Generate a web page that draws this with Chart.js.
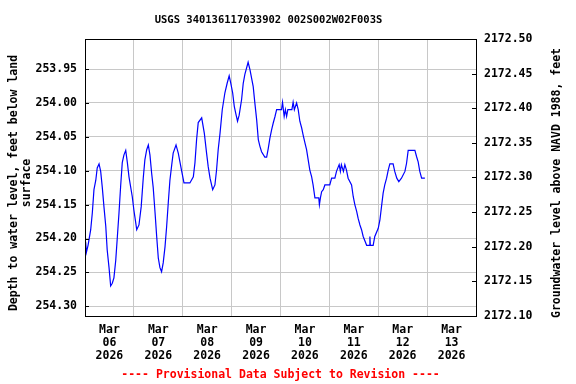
<!DOCTYPE html>
<html>
<head>
<meta charset="utf-8">
<script src="https://cdn.jsdelivr.net/npm/chart.js@4"></script>
<style>
  html, body { margin: 0; padding: 0; background: #fff; }
</style>
</head>
<body>
<canvas id="chart" width="576" height="384"></canvas>
<script>
const FONT = 'DejaVu Sans Mono, monospace';
const TITLE = 'USGS 340136117033902 002S002W02F003S';
const FOOTNOTE = '---- Provisional Data Subject to Revision ----';
const LEFT_TITLE = ['Depth to water level, feet below land', 'surface'];
const RIGHT_TITLE = 'Groundwater level above NAVD 1988, feet';

// x axis: hours since Mar 06 2026 00:00
const dayMonth = 'Mar';
const dayNumbers = ['06', '07', '08', '09', '10', '11', '12', '13'];
const dayYear = '2026';
const dayEdges = [0, 24, 48, 72, 96, 120, 144, 168, 192];
const dayCenters = [12, 36, 60, 84, 108, 132, 156, 180];

const depthTicks = [253.95, 254.00, 254.05, 254.10, 254.15, 254.20, 254.25, 254.30];
const elevTicks = [2172.10, 2172.15, 2172.20, 2172.25, 2172.30, 2172.35, 2172.40, 2172.45, 2172.50];

const hours = [0.3,0.7,1.5,2.8,3.6,4.4,5.3,6.0,6.9,7.7,
  8.5,9.3,10.2,10.9,11.8,12.6,13.4,14.2,15.1,15.9,
  16.7,17.5,18.3,19.1,20.0,20.8,21.6,23.2,24.0,25.4,
  26.5,27.6,28.6,29.4,30.3,31.1,31.9,32.7,33.5,34.4,
  35.2,36.0,36.8,37.6,38.4,39.3,40.1,40.9,41.7,42.6,
  43.3,44.7,45.8,47.5,48.6,51.5,53.2,54.0,54.8,55.6,
  57.3,58.6,59.7,60.5,61.4,62.7,63.8,64.6,65.4,66.3,
  67.4,68.7,69.8,70.8,71.6,72.5,73.3,74.0,74.9,75.7,
  76.9,77.7,78.5,80.1,81.0,82.6,83.4,84.3,85.1,85.9,
  86.7,88.3,89.2,90.0,90.8,91.6,92.4,93.3,94.1,96.5,
  97.0,97.8,98.4,99.0,99.6,101.6,102.2,102.8,103.9,104.7,
  105.5,106.4,107.1,108.0,108.8,109.6,110.4,111.3,112.0,112.9,
  114.8,115.1,115.6,116.2,117.0,117.8,120.2,121.1,122.7,123.5,
  124.8,125.4,125.9,126.9,127.6,128.4,129.2,130.9,131.7,132.5,
  133.4,134.1,135.0,135.8,136.6,138.3,139.6,139.9,140.1,141.5,
  142.3,144.0,144.8,145.6,146.4,147.2,148.1,148.9,149.7,151.3,
  152.1,153.1,154.1,155.4,157.1,157.9,158.7,162.0,162.8,163.6,
  164.4,165.3,166.9];

const depth = [254.205,254.220,254.210,254.187,254.162,254.128,254.114,254.096,254.090,254.101,
  254.125,254.153,254.182,254.217,254.243,254.270,254.266,254.258,254.232,254.197,
  254.162,254.123,254.088,254.077,254.070,254.088,254.109,254.138,254.158,254.187,
  254.180,254.153,254.111,254.084,254.069,254.062,254.077,254.103,254.125,254.162,
  254.197,254.229,254.243,254.249,254.236,254.212,254.182,254.147,254.114,254.091,
  254.074,254.062,254.074,254.101,254.118,254.118,254.109,254.088,254.054,254.029,
  254.022,254.045,254.074,254.094,254.111,254.128,254.121,254.099,254.069,254.045,
  254.010,253.985,253.971,253.960,253.971,253.985,254.005,254.015,254.027,254.018,
  253.995,253.971,253.958,253.940,253.951,253.976,254.000,254.025,254.054,254.064,
  254.072,254.080,254.080,254.067,254.052,254.040,254.030,254.020,254.010,254.010,
  253.999,254.020,254.010,254.020,254.010,254.010,253.999,254.010,254.000,254.010,
  254.027,254.037,254.047,254.059,254.069,254.084,254.099,254.109,254.121,254.140,
  254.140,254.150,254.140,254.131,254.128,254.121,254.121,254.111,254.111,254.101,
  254.091,254.101,254.091,254.101,254.091,254.099,254.111,254.121,254.138,254.150,
  254.160,254.170,254.180,254.187,254.197,254.210,254.210,254.197,254.210,254.210,
  254.197,254.185,254.173,254.153,254.133,254.121,254.111,254.099,254.090,254.090,
  254.101,254.111,254.116,254.111,254.101,254.089,254.070,254.070,254.079,254.087,
  254.101,254.111,254.111];

const points = hours.map((h, i) => ({ x: h, y: depth[i] }));
const tickFont = { family: FONT, size: 11.5, weight: 'bold', lineHeight: 1.13 };

// frame, inward ticks and the page texts
const decorations = {
  id: 'decorations',
  afterDraw(chart) {
    const { ctx, chartArea: a, scales } = chart;
    ctx.save();
    ctx.strokeStyle = '#000';
    ctx.lineWidth = 1;
    ctx.strokeRect(Math.round(a.left) + 0.5, Math.round(a.top) + 0.5,
      Math.round(a.right - a.left), Math.round(a.bottom - a.top));

    ctx.beginPath();
    scales.y.ticks.forEach(t => {
      const py = Math.round(scales.y.getPixelForValue(t.value)) + 0.5;
      ctx.moveTo(a.left, py); ctx.lineTo(a.left + 4, py);
    });
    scales.y2.ticks.forEach(t => {
      const py = Math.round(scales.y2.getPixelForValue(t.value)) + 0.5;
      ctx.moveTo(a.right - 4, py); ctx.lineTo(a.right, py);
    });
    ctx.stroke();

    ctx.textAlign = 'center';
    ctx.textBaseline = 'middle';
    ctx.fillStyle = '#000';
    ctx.font = 'bold 10.5px ' + FONT;
    ctx.fillText(TITLE, 268.5, 20);

    ctx.font = 'bold 11.5px ' + FONT;
    ctx.fillStyle = '#ff0000';
    ctx.fillText(FOOTNOTE, 280.5, 375);

    ctx.fillStyle = '#000';
    ctx.save();
    ctx.translate(14, 183);
    ctx.rotate(-Math.PI / 2);
    ctx.fillText(LEFT_TITLE[0], 0, 0);
    ctx.fillText(LEFT_TITLE[1], 0, 13);
    ctx.restore();

    ctx.save();
    ctx.translate(557, 183);
    ctx.rotate(-Math.PI / 2);
    ctx.fillText(RIGHT_TITLE, 0, 0);
    ctx.restore();
    ctx.restore();
  }
};

new Chart(document.getElementById('chart'), {
  type: 'line',
  data: {
    datasets: [{
      data: points,
      yAxisID: 'y',
      xAxisID: 'x',
      borderColor: '#0000ff',
      borderWidth: 1.2,
      pointRadius: 0,
      tension: 0,
      fill: false,
    }],
  },
  options: {
    responsive: false,
    animation: false,
    layout: { padding: { top: 39, left: 0, right: 0, bottom: 0 } },
    plugins: { legend: { display: false }, tooltip: { enabled: false } },
    scales: {
      x: {
        type: 'linear', position: 'bottom', min: 0, max: 192,
        afterBuildTicks: s => { s.ticks = dayEdges.map(v => ({ value: v })); },
        afterFit: s => { s.height = 0; },
        ticks: { display: false },
        grid: { color: '#c8c8c8', drawTicks: false },
        border: { display: false },
      },
      xl: {
        type: 'linear', position: 'bottom', min: 0, max: 192,
        afterBuildTicks: s => { s.ticks = dayCenters.map(v => ({ value: v })); },
        afterFit: s => { s.height = 68; },
        ticks: {
          font: tickFont, color: '#000', padding: 8,
          maxRotation: 0, autoSkip: false,
          callback: (v, i) => [dayMonth, dayNumbers[i], dayYear],
        },
        grid: { display: false, drawTicks: false },
        border: { display: false },
      },
      y: {
        type: 'linear', position: 'left', reverse: true,
        min: 253.9057, max: 254.3143,
        afterBuildTicks: s => { s.ticks = depthTicks.map(v => ({ value: v })); },
        afterFit: s => { s.width = 85; },
        ticks: { font: tickFont, color: '#000', padding: 8, callback: v => v.toFixed(2) },
        grid: { color: '#c8c8c8', drawTicks: false },
        border: { display: false },
      },
      y2: {
        type: 'linear', position: 'right', min: 2172.10, max: 2172.50,
        afterBuildTicks: s => { s.ticks = elevTicks.map(v => ({ value: v })); },
        afterFit: s => { s.width = 100; },
        ticks: { font: tickFont, color: '#000', padding: 8, callback: v => v.toFixed(2) },
        grid: { display: false, drawTicks: false },
        border: { display: false },
      },
    },
  },
  plugins: [decorations],
});
</script>
</body>
</html>
